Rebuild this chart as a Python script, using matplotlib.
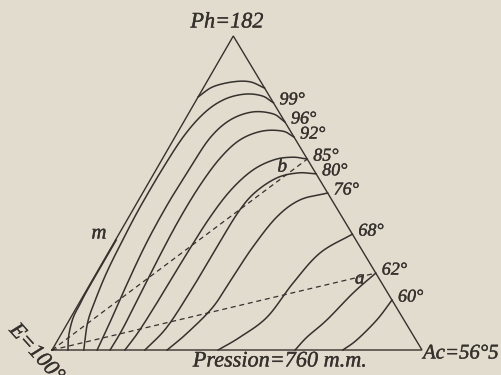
import numpy as np
import matplotlib.pyplot as plt
import matplotlib.patheffects as pe

# isothermes a 760 mm : composition (% phenol, % acetone), le reste = eau
top_ph = [80.6, 83.8, 85.4, 85.4, 83.4]
top_ac = [0.0, 2.4, 7.1, 11.7, 16.6]

iso99_ph = [78.7, 80.9, 81.5, 79.9, 75.8, 68.5, 58.0, 45.5, 36.0, 25.5, 16.6, 8.9, 0.0]
iso99_ac = [21.3, 17.2, 12.3, 7.6, 4.3, 2.3, 1.6, 1.5, 1.9, 2.6, 3.8, 5.3, 8.6]

iso96_ph = [72.6, 75.2, 75.8, 73.2, 67.5, 58.0, 46.8, 34.4, 21.7, 10.2, 0.0]
iso96_ac = [27.4, 22.9, 17.0, 12.2, 9.6, 8.9, 8.5, 8.8, 9.9, 11.2, 12.2]

iso92_ph = [67.8, 69.7, 69.7, 66.9, 61.1, 52.5, 42.0, 30.3, 17.5, 6.4, 0.0]
iso92_ac = [32.2, 28.2, 22.6, 18.0, 15.5, 14.3, 14.0, 14.4, 15.2, 15.8, 15.7]

iso85_ph = [60.8, 61.4, 60.6, 57.3, 51.0, 42.4, 30.9, 18.2, 6.4, 0.0]
iso85_ac = [39.2, 35.0, 30.4, 26.2, 23.4, 22.0, 21.4, 21.1, 20.6, 19.7]

iso80_ph = [56.1, 56.4, 54.8, 50.0, 43.6, 32.8, 20.1, 7.3, 0.0]
iso80_ac = [43.9, 38.9, 33.9, 30.2, 28.8, 28.5, 28.3, 27.5, 25.1]

iso76_ph = [50.0, 47.8, 42.4, 32.8, 23.2, 13.7, 5.4, 0.0]
iso76_ac = [50.0, 43.6, 40.0, 38.2, 37.5, 36.8, 33.9, 31.1]

iso68_ph = [36.9, 30.9, 21.3, 10.5, 4.1, 0.0]
iso68_ac = [63.1, 57.3, 54.7, 53.0, 48.8, 44.9]

iso62_ph = [24.5, 18.2, 9.6, 4.1, 0.0]
iso62_ac = [75.5, 72.5, 69.6, 66.9, 65.7]

iso60_ph = [15.9, 9.6, 3.2, 0.0]
iso60_ac = [84.1, 83.1, 80.8, 78.6]

m_ph = [0.0, 4.8, 10.2, 14.6, 19.7, 35.0]
m_ac = [4.3, 2.2, 0.7, 0.4, 0.2, 0.2]

temp_labels = ["99°", "96°", "92°", "85°", "80°", "76°", "68°", "62°", "60°"]

bg = "#e2dccf"
ink = "#35312d"
APEX = 0.49  # le sommet Ph n'est pas tout a fait au milieu sur la gravure


def tern(ph, ac):
    ph = np.asarray(ph) / 100.0
    ac = np.asarray(ac) / 100.0
    return ac + APEX * ph, ph


def smooth(x, y, n=25):
    pts = np.column_stack([x, y])
    p = np.vstack([2 * pts[0] - pts[1], pts, 2 * pts[-1] - pts[-2]])
    t = np.linspace(0, 1, n, endpoint=False)[:, None]
    out = []
    for i in range(1, len(p) - 2):
        p0, p1, p2, p3 = p[i - 1], p[i], p[i + 1], p[i + 2]
        out.append(0.5 * (2 * p1 + (-p0 + p2) * t + (2 * p0 - 5 * p1 + 4 * p2 - p3) * t ** 2
                          + (-p0 + 3 * p1 - 3 * p2 + p3) * t ** 3))
    out.append(pts[-1:])
    c = np.vstack(out)
    return c[:, 0], c[:, 1]


fig = plt.figure(figsize=(5.01, 3.75), dpi=100, facecolor=bg)
ax = fig.add_axes([52 / 501, 25 / 375, 370 / 501, 314 / 375])
ax.set_xlim(0, 1)
ax.set_ylim(0, 1)
ax.axis("off")

font = dict(family="Liberation Serif", style="italic", color=ink,
            path_effects=[pe.withStroke(linewidth=0.25, foreground=ink)])

# triangle
tx, ty = tern([0, 0, 100, 0], [0, 100, 0, 0])
ax.plot(tx, ty, color=ink, lw=1.0, clip_on=False, solid_joinstyle="miter")

# courbes
curves = [(top_ph, top_ac), (iso99_ph, iso99_ac), (iso96_ph, iso96_ac), (iso92_ph, iso92_ac),
          (iso85_ph, iso85_ac), (iso80_ph, iso80_ac), (iso76_ph, iso76_ac),
          (iso68_ph, iso68_ac), (iso62_ph, iso62_ac), (iso60_ph, iso60_ac), (m_ph, m_ac)]
for ph, ac in curves:
    x, y = tern(ph, ac)
    sx, sy = smooth(x, y)
    ax.plot(sx, sy, color=ink, lw=1.1, clip_on=False)

# etiquettes des temperatures, au bout droit de chaque isotherme
for (ph, ac), lab in zip(curves[1:10], temp_labels):
    x, y = tern(ph[0], ac[0])
    ax.annotate(lab, (x, y), xytext=(6, 3), textcoords="offset pixels",
                ha="left", va="center", fontsize=13, **font)

# droites pointillees E -> a (62°) et E -> b (85°)
for ph, ac in [(iso62_ph, iso62_ac), (iso85_ph, iso85_ac)]:
    x, y = tern([0, ph[0]], [0, ac[0]])
    ax.plot(x, y, color=ink, lw=0.9, ls=(0, (4, 3)), clip_on=False)

xa, ya = tern(iso62_ph[0], iso62_ac[0])
ax.annotate("a", (xa, ya), xytext=(-16, -6), textcoords="offset pixels",
            ha="center", va="center", fontsize=14, **font)
xb, yb = tern(iso85_ph[0], iso85_ac[0])
ax.annotate("b", (xb, yb), xytext=(-25, -8), textcoords="offset pixels",
            ha="center", va="center", fontsize=14, **font)

fig.text(99 / 501, 1 - 234 / 375, "m", ha="center", va="center", fontsize=15, **font)
fig.text(227 / 501, 1 - 23 / 375, "Ph=182", ha="center", va="center", fontsize=16, **font)
fig.text(280 / 501, 1 - 362 / 375, "Pression=760 m.m.", ha="center", va="center",
         fontsize=16, **font)
fig.text(423 / 501, 1 - 354 / 375, "Ac=56°5", ha="left", va="center", fontsize=15, **font)
fig.text(19 / 501, 1 - 321 / 375, "E=100°", ha="left", va="top", rotation=-48,
         rotation_mode="anchor", fontsize=16, **font)

fig.savefig("out.png", dpi=100, facecolor=bg)
